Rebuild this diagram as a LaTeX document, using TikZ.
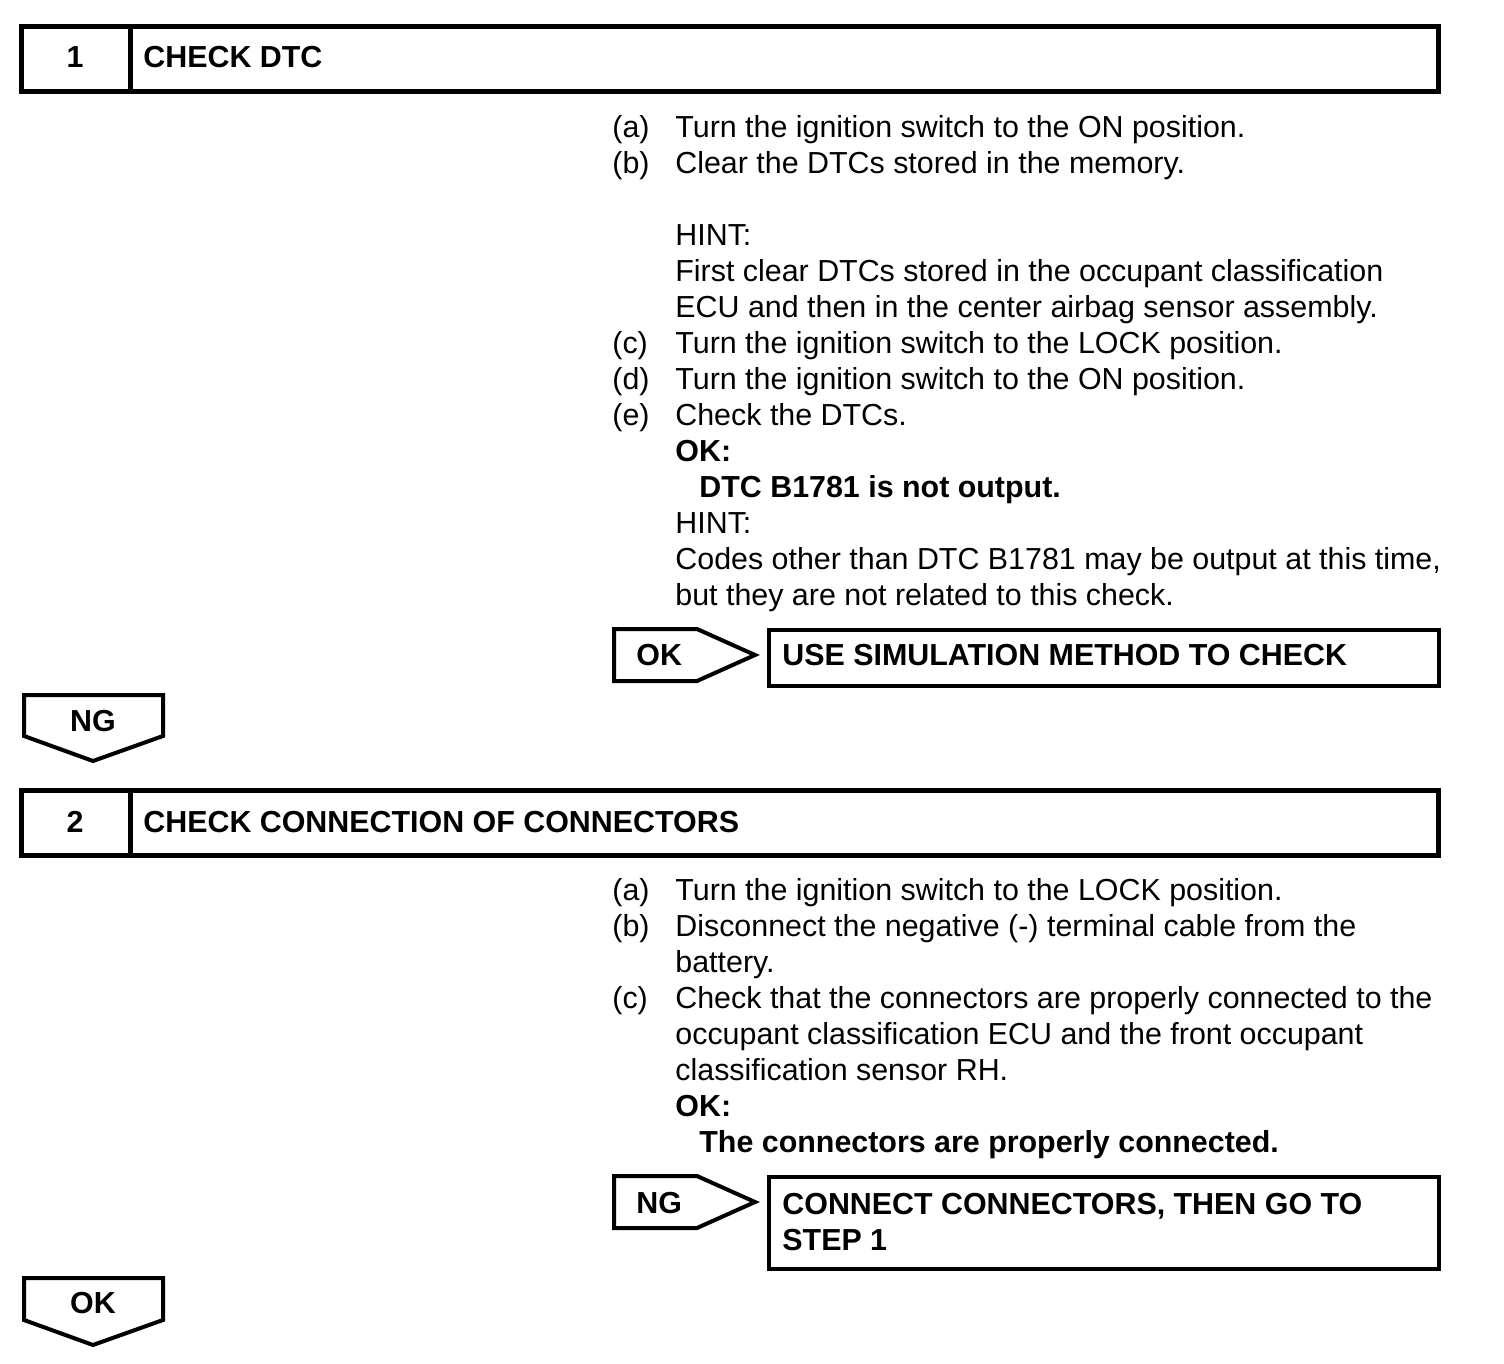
\documentclass[tikz,border=0pt]{standalone}
\usepackage{fontspec}
\setmainfont{Liberation Sans}
\begin{document}
\fontsize{15.2}{18}\selectfont
\begin{tikzpicture}[x=0.5pt,y=-0.5pt,
		hdbox/.style={line width=2.5pt},
		flowbox/.style={line width=2pt,line join=miter},
		bt/.style={inner sep=0pt,font=\bfseries},
		steptxt/.style={inner sep=0pt,anchor=base west}]
	\useasboundingbox (0,0) rectangle (1504,1364);
	\draw [hdbox] (21.5,26.5) rectangle (1438.5,91.5);
	\draw [hdbox] (130.5,26.5) -- (130.5,91.5);
	\node [bt,anchor=base] (num1) at (75,68) {1};
	\node [bt,anchor=base west] (ttl1) at (143,68) {CHECK DTC};
	\node [steptxt] (txt1) at (612,138) {\begin{tabular}[t]{@{}p{31.5pt}@{}l@{}}
			(a) & Turn the ignition switch to the ON position.\\
			(b) & Clear the DTCs stored in the memory.\\
			& \\
			& HINT:\\
			& First clear DTCs stored in the occupant classification\\
			& ECU and then in the center airbag sensor assembly.\\
			(c) & Turn the ignition switch to the LOCK position.\\
			(d) & Turn the ignition switch to the ON position.\\
			(e) & Check the DTCs.\\
			& \textbf{OK:}\\
			& \hspace{12pt}\textbf{DTC B1781 is not output.}\\
			& HINT:\\
			& Codes other than DTC B1781 may be output at this time,\\
			& but they are not related to this check.
		\end{tabular}};
	\draw [flowbox] (614,629) -- (697,629) -- (755,655) -- (697,681) -- (614,681) -- cycle;
	\node [bt,anchor=base west] (ok1) at (636,665) {OK};
	\draw [flowbox] (769,630) rectangle (1439,686);
	\node [bt,anchor=base west] (res1) at (782,665) {USE SIMULATION METHOD TO CHECK};
	\draw [flowbox] (24,695) -- (163,695) -- (163,736) -- (93,761) -- (24,736) -- cycle;
	\node [bt,anchor=base] (ng1) at (93,731) {NG};
	\draw [hdbox] (21.5,790.5) rectangle (1438.5,855.5);
	\draw [hdbox] (130.5,790.5) -- (130.5,855.5);
	\node [bt,anchor=base] (num2) at (75,832) {2};
	\node [bt,anchor=base west] (ttl2) at (143,832) {CHECK CONNECTION OF CONNECTORS};
	\node [steptxt] (txt2) at (612,900) {\begin{tabular}[t]{@{}p{31.5pt}@{}l@{}}
			(a) & Turn the ignition switch to the LOCK position.\\
			(b) & Disconnect the negative (-) terminal cable from the\\
			& battery.\\
			(c) & Check that the connectors are properly connected to the\\
			& occupant classification ECU and the front occupant\\
			& classification sensor RH.\\
			& \textbf{OK:}\\
			& \hspace{12pt}\textbf{The connectors are properly connected.}
		\end{tabular}};
	\draw [flowbox] (614,1176) -- (697,1176) -- (755,1202) -- (697,1228) -- (614,1228) -- cycle;
	\node [bt,anchor=base west] (ng2) at (636,1213) {NG};
	\draw [flowbox] (769,1177) rectangle (1439,1269);
	\node [steptxt,font=\bfseries] (res2) at (782,1214) {\begin{tabular}[t]{@{}l@{}}
			CONNECT CONNECTORS, THEN GO TO\\
			STEP 1
		\end{tabular}};
	\draw [flowbox] (24,1278) -- (163,1278) -- (163,1320) -- (93,1345) -- (24,1320) -- cycle;
	\node [bt,anchor=base] (ok2) at (93,1313) {OK};
\end{tikzpicture}
\end{document}
